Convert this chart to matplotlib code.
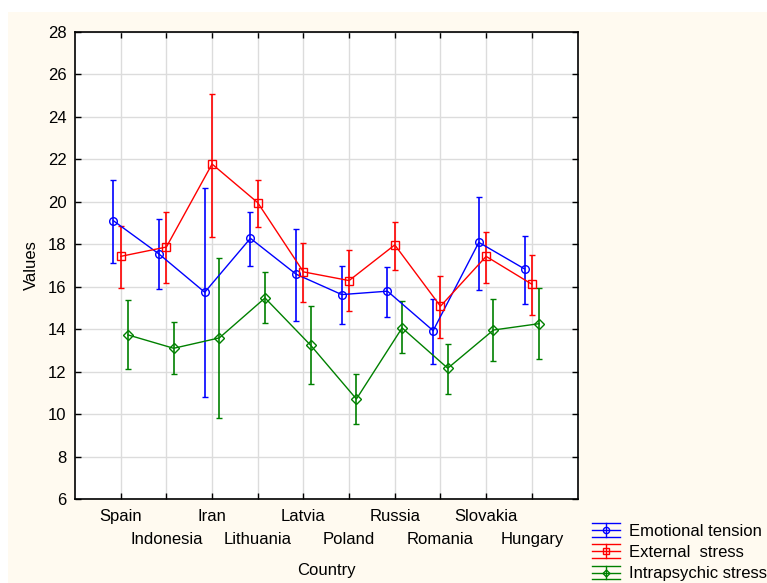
import numpy as np
import matplotlib
matplotlib.use('Agg')
import matplotlib.pyplot as plt
from matplotlib.lines import Line2D
from matplotlib.patches import Rectangle
from matplotlib.legend_handler import HandlerBase

plt.rcParams['font.family'] = ['Liberation Sans', 'DejaVu Sans']

countries = ['Spain', 'Indonesia', 'Iran', 'Lithuania', 'Latvia',
             'Poland', 'Russia', 'Romania', 'Slovakia', 'Hungary']

emo_mean = [19.11, 17.54, 15.74, 18.28, 16.59, 15.63, 15.79, 13.93, 18.09, 16.84]
emo_low = [17.13, 15.91, 10.81, 16.99, 14.39, 14.23, 14.59, 12.38, 15.83, 15.17]
emo_high = [21.04, 19.21, 20.64, 19.54, 18.72, 16.99, 16.94, 15.44, 20.24, 18.41]

ext_mean = [17.43, 17.87, 21.78, 19.96, 16.70, 16.29, 17.97, 15.08, 17.43, 16.12]
ext_low = [15.93, 16.16, 18.36, 18.81, 15.30, 14.84, 16.80, 13.59, 16.18, 14.68]
ext_high = [18.86, 19.51, 25.09, 21.04, 18.06, 17.72, 19.05, 16.51, 18.57, 17.50]

intra_mean = [13.73, 13.10, 13.59, 15.47, 13.24, 10.71, 14.06, 12.16, 13.96, 14.26]
intra_low = [12.13, 11.88, 9.80, 14.31, 11.43, 9.55, 12.87, 10.96, 12.52, 12.60]
intra_high = [15.38, 14.35, 17.35, 16.68, 15.08, 11.90, 15.33, 13.32, 15.42, 15.96]

series = [
    ('Emotional tension', emo_mean, emo_low, emo_high, '#0000ff', 'o', -0.16),
    ('External  stress', ext_mean, ext_low, ext_high, '#ff0000', 's', 0.0),
    ('Intrapsychic stress', intra_mean, intra_low, intra_high, '#008000', 'D', 0.16),
]


class ErrHandle(HandlerBase):
    # legend entry: three horizontal lines, a short vertical bar and the marker
    def __init__(self, color, marker):
        super().__init__()
        self.color = color
        self.marker = marker

    def create_artists(self, legend, orig_handle, xdescent, ydescent,
                       width, height, fontsize, trans):
        yc = height / 2 - ydescent
        d = 5
        arts = []
        for y in (yc - d, yc, yc + d):
            arts.append(Line2D([-xdescent, width - xdescent], [y, y],
                               color=self.color, lw=1))
        arts.append(Line2D([width / 2 - xdescent] * 2, [yc - d, yc + d],
                           color=self.color, lw=1))
        ms = 4.5 if self.marker != 'D' else 3.5
        arts.append(Line2D([width / 2 - xdescent], [yc], marker=self.marker,
                           ms=ms, mfc='none', mec=self.color, mew=1, ls='none'))
        for a in arts:
            a.set_transform(trans)
        return arts


fig = plt.figure(figsize=(7.67, 5.83), dpi=100, facecolor='white')
fig.patches.append(Rectangle((8 / 767, 0), 1, 1 - 12 / 583, transform=fig.transFigure,
                             facecolor='#fffaf0', edgecolor='none', zorder=-10))

ax = fig.add_axes([75 / 767, 84 / 583, 502.5 / 767, 467 / 583])
ax.set_facecolor('white')

x = np.arange(1, len(countries) + 1)
handles = []
handler_map = {}
for name, m, lo, hi, col, mk, off in series:
    m = np.array(m)
    yerr = [m - np.array(lo), np.array(hi) - m]
    ms = {'o': 5.5, 's': 5.5, 'D': 4.8}[mk]
    ax.errorbar(x + off, m, yerr=yerr, color=col, lw=1, elinewidth=1.2,
                capsize=2.2, capthick=1.2, marker=mk, ms=ms, mfc='none',
                mec=col, mew=1, zorder=3)
    h = Line2D([], [], color=col)
    handles.append(h)
    handler_map[h] = ErrHandle(col, mk)

ax.set_xlim(0, 11)
ax.set_ylim(6, 28)
ax.set_yticks(np.arange(6, 29, 2))
# staggered country labels: first row on major ticks, second row on minor ticks
ax.set_xticks(x[::2])
ax.set_xticklabels(countries[::2])
ax.set_xticks(x[1::2], minor=True)
ax.set_xticklabels(countries[1::2], minor=True)
ax.grid(True, which='both', color='#dcdcdc', lw=1)
ax.set_axisbelow(True)
ax.tick_params(which='both', direction='in', length=4, width=1, labelsize=12,
               colors='black', top=True, right=True)
ax.tick_params(axis='x', which='major', pad=7)
ax.tick_params(axis='x', which='minor', pad=24)
ax.tick_params(axis='y', pad=6)
for s in ax.spines.values():
    s.set_linewidth(1.2)
    s.set_color('black')

ax.set_xlabel('Country', fontsize=12)
ax.set_ylabel('Values', fontsize=12)
ax.xaxis.set_label_coords(0.5, -0.137)
ax.yaxis.set_label_coords(-0.071, 0.5)

fig.legend(handles=handles, labels=[s[0] for s in series], handler_map=handler_map,
           loc='upper left', bbox_to_anchor=(592 / 767, 1 - 524 / 583),
           frameon=False, fontsize=12, handlelength=1.7, handletextpad=0.52,
           labelspacing=0.37, borderaxespad=0, borderpad=0)

fig.savefig('out.png', dpi=100, facecolor=fig.get_facecolor())
